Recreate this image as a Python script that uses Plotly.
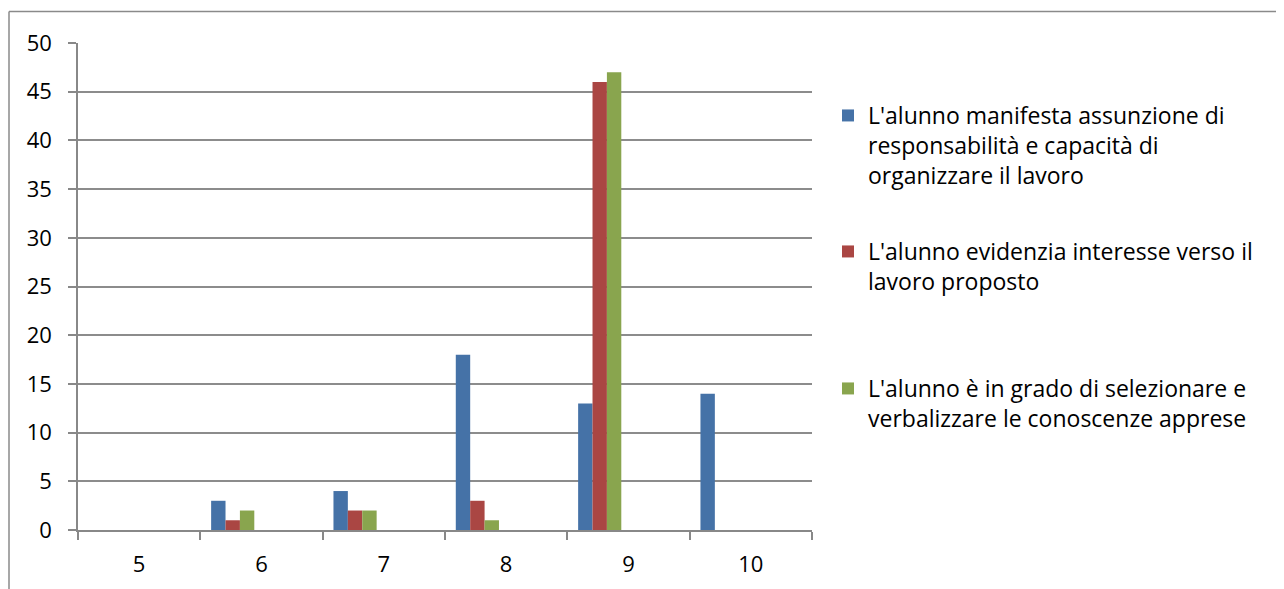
import plotly.graph_objects as go

categories = ["5", "6", "7", "8", "9", "10"]
series_names = [
    "L'alunno manifesta assunzione di<br>responsabilità e capacità di<br>organizzare il lavoro",
    "L'alunno evidenzia interesse verso il<br>lavoro proposto",
    "L'alunno è in grado di selezionare e<br>verbalizzare le conoscenze apprese",
]
responsabilita = [0, 3, 4, 18, 13, 14]
interesse = [0, 1, 2, 3, 46, 0]
verbalizzare = [0, 2, 2, 1, 47, 0]
colors = ["#4572A7", "#AA4643", "#89A54E"]

# page body has an 8px margin; work in figure coordinates
OFF = 8
W, H = 1284 - OFF, 589 - OFF
L, R, T, B = 78 - OFF, 812 - OFF, 43 - OFF, 530 - OFF

def px(x):
    return (x - OFF - L) / (R - L)

def py(y):
    return (B - (y - OFF)) / (B - T)

# Excel-like slot layout: 7 bar slots per category with a 150% gap
SLOTS, GAP = 7, 1.5
BW = 1.0 / (SLOTS + GAP)

FONT = "Open Sans"
fig = go.Figure()
legend_keys = ["legend", "legend2", "legend3"]
for i, (vals, name) in enumerate(zip([responsabilita, interesse, verbalizzare], series_names)):
    fig.add_trace(go.Bar(
        x=categories, y=vals, name=name,
        width=BW, offset=-0.5 + GAP * BW / 2 + i * BW,
        marker=dict(color=colors[i], line=dict(width=0)),
        legend=legend_keys[i],
    ))

legend_tops = [94, 230, 367]
legend_common = dict(
    x=px(828), xanchor="left", yanchor="top",
    font=dict(family=FONT, size=23, color="#000000"),
    bgcolor="rgba(0,0,0,0)", valign="top", itemwidth=30,
)

fig.update_layout(
    width=W, height=H,
    margin=dict(l=L, r=W - R, t=T, b=H - B, pad=0),
    paper_bgcolor="white", plot_bgcolor="white",
    barmode="overlay",
    font=dict(family=FONT, size=22, color="#000000"),
    showlegend=True,
    legend=dict(y=py(legend_tops[0]), **legend_common),
    legend2=dict(y=py(legend_tops[1]), **legend_common),
    legend3=dict(y=py(legend_tops[2]), **legend_common),
    xaxis=dict(
        type="category", tickson="boundaries", ticks="outside", ticklen=8,
        tickcolor="#888888", tickwidth=1.5,
        showline=True, linecolor="#888888", linewidth=1.5,
        showgrid=False, tickfont=dict(family=FONT, size=22), ticklabelstandoff=14,
    ),
    yaxis=dict(
        range=[0, 50], dtick=5, ticks="outside", ticklen=8,
        tickcolor="#888888", tickwidth=1.5,
        showline=True, linecolor="#888888", linewidth=1.5,
        showgrid=True, gridcolor="#8c8c8c", gridwidth=1.5,
        zeroline=False, tickfont=dict(family=FONT, size=22), ticklabelstandoff=12,
    ),
    shapes=[
        dict(type="line", xref="paper", yref="paper",
             x0=px(9), y0=py(11.5), x1=px(1300), y1=py(11.5),
             line=dict(color="#8a8a8a", width=1.5)),
        dict(type="line", xref="paper", yref="paper",
             x0=px(9), y0=py(11.5), x1=px(9), y1=py(610),
             line=dict(color="#8a8a8a", width=1.5)),
    ],
)

fig.write_html("out.html")
